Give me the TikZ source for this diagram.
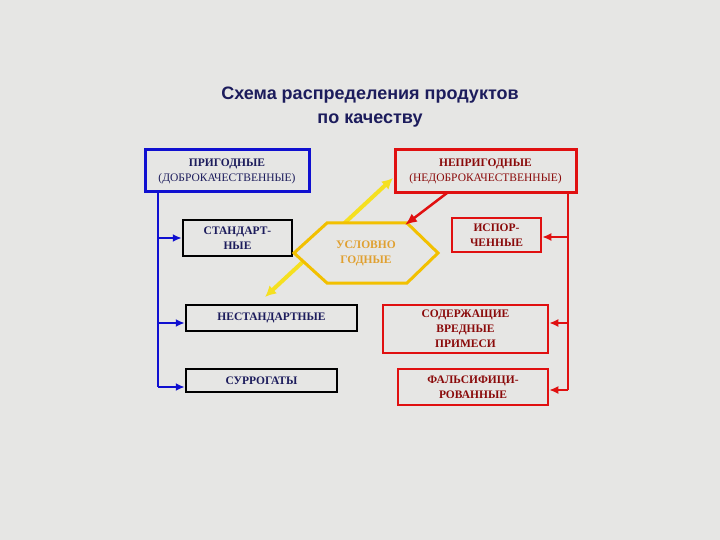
\documentclass[tikz,border=0pt]{standalone}
\usepackage{fontspec}
\setmainfont{Liberation Serif}
\newfontfamily\titlefont{Liberation Sans}
\usetikzlibrary{arrows.meta}
\definecolor{bg}{HTML}{E6E6E4}
\definecolor{navy}{HTML}{1C1C5C}
\definecolor{dred}{HTML}{8A0A0A}
\definecolor{bblue}{HTML}{1010D0}
\definecolor{rred}{HTML}{E01010}
\definecolor{yel}{HTML}{F5E020}
\definecolor{hex}{HTML}{F2C000}
\definecolor{hextxt}{HTML}{E0A030}
\tikzset{
 lbl/.style={font=\fontsize{11.5}{15}\selectfont\bfseries, align=center},
 bbox/.style={draw=black, line width=2.5pt},
 rbox/.style={draw=rred, line width=2.5pt, text=dred},
 barrow/.style={bblue, line width=2.5pt, -{Latex[length=9pt,width=8pt]}},
 rarrow/.style={rred, line width=2.5pt, -{Latex[length=9pt,width=8pt]}},
}
\begin{document}
\begin{tikzpicture}[x=1pt,y=-1pt]
\fill[bg] (0,0) rectangle (720,540);
\useasboundingbox (0,0) rectangle (720,540);
\node[font=\titlefont\fontsize{18}{24}\selectfont\bfseries, text=navy, align=center] (title) at (370,107) {Схема распределения продуктов\\по качеству};
% boxes
\draw[bblue, line width=3pt] (145,150) rectangle (309,192);
\node[lbl, text=navy] (prig) at (227,171) {ПРИГОДНЫЕ\\{\mdseries(ДОБРОКАЧЕСТВЕННЫЕ)}};
\draw[rred, line width=3pt] (395,150) rectangle (576,193);
\node[lbl, text=dred] (neprig) at (485.5,171.5) {НЕПРИГОДНЫЕ\\{\mdseries(НЕДОБРОКАЧЕСТВЕННЫЕ)}};
\coordinate (pb) at (158,192);
\coordinate (nb) at (568,193);
\node[bbox, lbl, text=navy, minimum width=109, minimum height=36, inner sep=0] (std) at (237.5,238) {СТАНДАРТ-\\НЫЕ};
\node[bbox, lbl, text=navy, minimum width=171, minimum height=26, inner sep=0] (nestd) at (271.5,318) {НЕСТАНДАРТНЫЕ};
\node[bbox, lbl, text=navy, minimum width=151, minimum height=23, inner sep=0] (sur) at (261.5,380.5) {СУРРОГАТЫ};
\node[rbox, lbl, minimum width=89, minimum height=34, inner sep=0] (isp) at (496.5,235) {ИСПОР-\\ЧЕННЫЕ};
\node[rbox, lbl, minimum width=165, minimum height=48, inner sep=0] (sod) at (465.5,329) {СОДЕРЖАЩИЕ\\ВРЕДНЫЕ\\ПРИМЕСИ};
\node[rbox, lbl, minimum width=150, minimum height=36, inner sep=0] (fal) at (473,387) {ФАЛЬСИФИЦИ-\\РОВАННЫЕ};
% yellow double arrow
\coordinate (ylo) at (265,297);
\coordinate (yhi) at (393,178);
\draw[yel, line width=4pt, {Latex[length=11pt,width=11pt]}-{Latex[length=11pt,width=11pt]}] (ylo) -- (yhi);
% hexagon
\draw[hex, line width=3pt, fill=bg] (294,253) -- (327,223) -- (407,223) -- (438,253) -- (407,283) -- (327,283) -- cycle;
\node[lbl, text=hextxt] (usl) at (366,253) {УСЛОВНО\\ГОДНЫЕ};
\coordinate (hextop) at (405,225);
\draw[rarrow, -{Latex[length=12pt,width=10pt]}] (447,193) -- (hextop);
% blue tree
\draw[bblue, line width=2.5pt] (pb) -- (158,387);
\draw[barrow] (158,238) -- (std.west);
\draw[barrow] (158,323) -- (nestd.west |- 0,323);
\draw[barrow] (158,387) -- (sur.west |- 0,387);
% red tree
\draw[rred, line width=2.5pt] (nb) -- (568,390);
\draw[rarrow] (568,237) -- (isp.east |- 0,237);
\draw[rarrow] (568,323) -- (sod.east |- 0,323);
\draw[rarrow] (568,390) -- (fal.east |- 0,390);
\end{tikzpicture}
\end{document}
